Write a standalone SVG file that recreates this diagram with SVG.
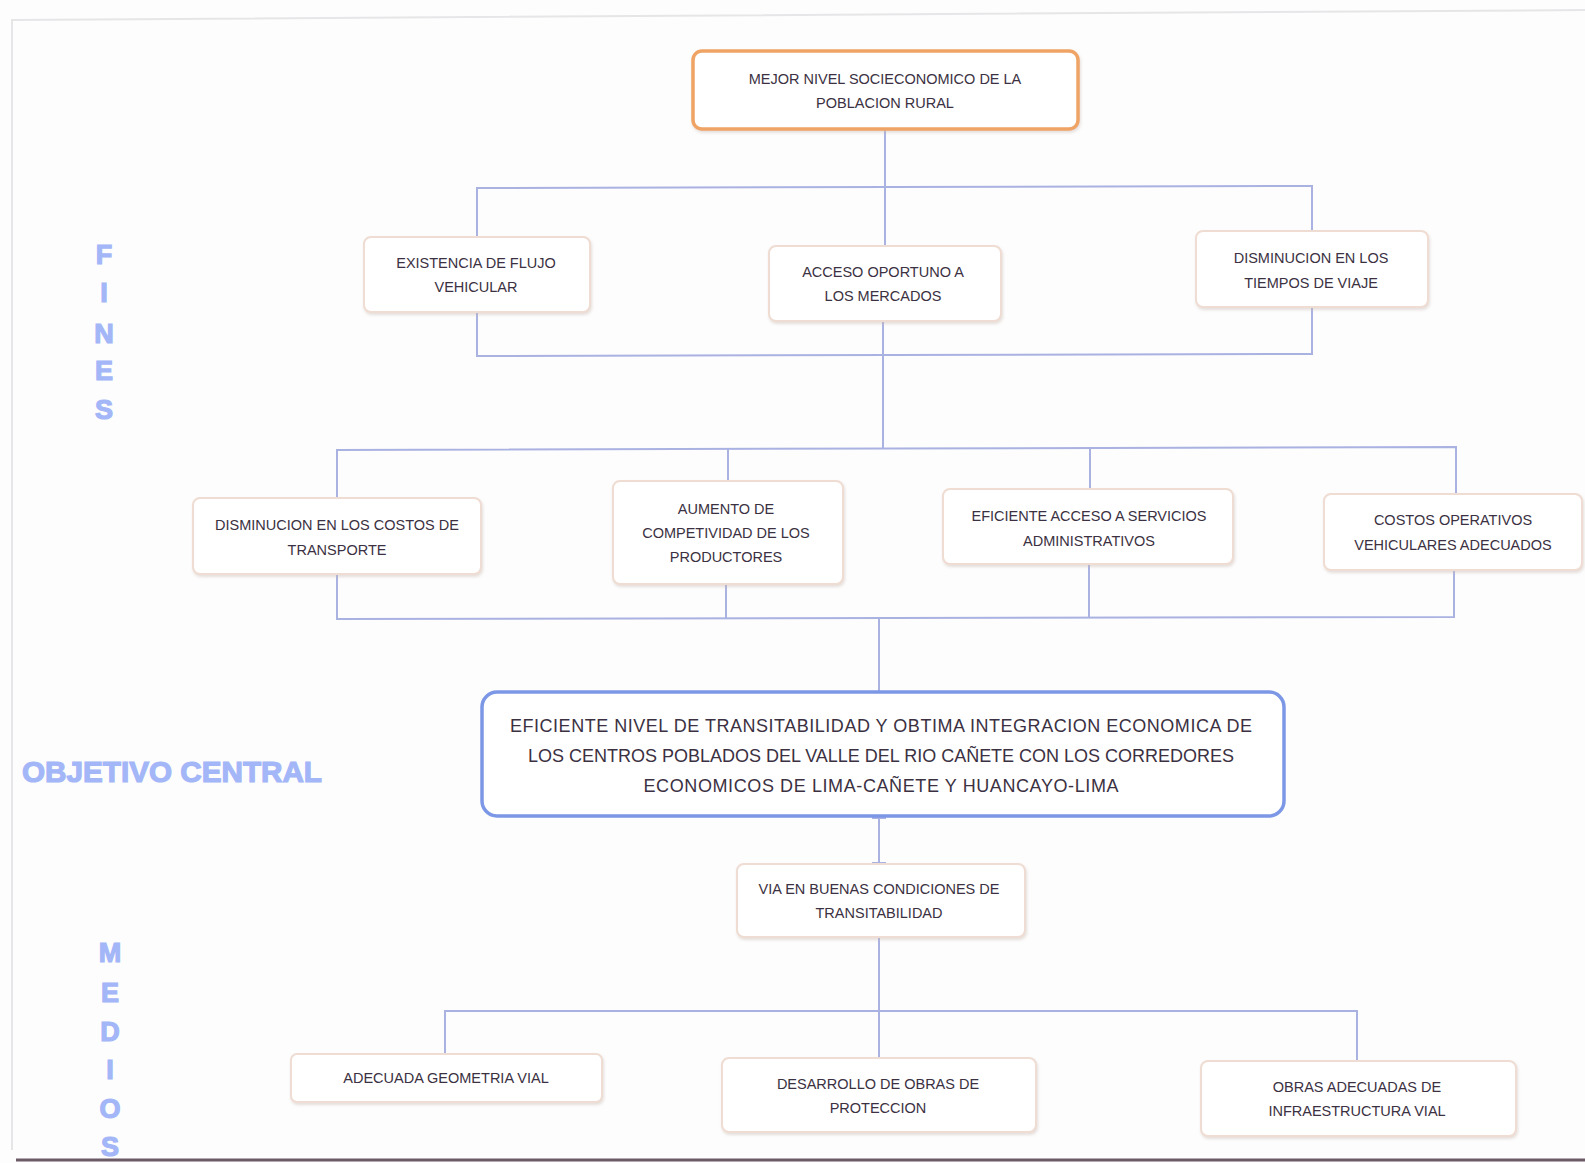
<svg xmlns="http://www.w3.org/2000/svg" width="1585" height="1163" viewBox="0 0 1585 1163">
<defs>
<style>
.bg{fill:#fdfdfd}
.frame{stroke:#e6e6e8;stroke-width:2;fill:none}
.box{fill:#ffffff;stroke:#efdcd2;stroke-width:2}
.top{fill:#ffffff;stroke:#efa465;stroke-width:3.5}
.central{fill:#ffffff;stroke:#7c97e6;stroke-width:3.5}
.t{font-family:"Liberation Sans",Arial,sans-serif;font-size:14.5px;fill:#3b3142;text-anchor:middle}
.tc{font-family:"Liberation Sans",Arial,sans-serif;font-size:18px;fill:#3b3142;text-anchor:middle}
.side{font-family:"Liberation Sans",Arial,sans-serif;font-weight:bold;fill:#a3b6f7;stroke:#a3b6f7;stroke-width:1.2;text-anchor:middle}
.conn line,.conn polyline{stroke:#aab2e2;stroke-width:2;fill:none}
</style>
<filter id="sh" x="-10%" y="-20%" width="120%" height="140%">
<feDropShadow dx="1" dy="2" stdDeviation="1.5" flood-color="#c8b8b0" flood-opacity="0.45"/>
</filter>
</defs>
<rect class="bg" x="0" y="0" width="1585" height="1163"/>
<polyline class="frame" points="12,1150 12,20 1585,10"/>
<line x1="16" y1="1160" x2="1585" y2="1160" stroke="#6a5a66" stroke-width="3"/>

<g class="conn">
<line x1="885" y1="130" x2="885" y2="246"/>
<polyline points="477,237 477,188 1312,186 1312,231"/>
<polyline points="477,312 477,356 1312,354 1312,307"/>
<line x1="883" y1="321" x2="883" y2="449"/>
<polyline points="337,498 337,450 1456,447 1456,494"/>
<line x1="728" y1="449" x2="728" y2="481"/>
<line x1="1090" y1="448" x2="1090" y2="489"/>
<polyline points="337,574 337,619 1454,617 1454,570"/>
<line x1="726" y1="584" x2="726" y2="619"/>
<line x1="1089" y1="564" x2="1089" y2="618"/>
<line x1="879" y1="618" x2="879" y2="692"/>
<line x1="879" y1="817" x2="879" y2="864"/>
<line x1="872" y1="818" x2="886" y2="818"/>
<line x1="872" y1="863" x2="886" y2="863"/>
<line x1="879" y1="937" x2="879" y2="1058"/>
<polyline points="445,1054 445,1011 1357,1011 1357,1061"/>
</g>

<g id="fines-label">
<text class="side" x="104" y="264" font-size="27">F</text>
<text class="side" x="104" y="302" font-size="27">I</text>
<text class="side" x="104" y="343" font-size="27">N</text>
<text class="side" x="104" y="380" font-size="27">E</text>
<text class="side" x="104" y="419" font-size="27">S</text>
</g>
<g id="objetivo-label">
<text class="side" x="172" y="782" font-size="30" textLength="300" lengthAdjust="spacingAndGlyphs">OBJETIVO CENTRAL</text>
</g>
<g id="medios-label">
<text class="side" x="110" y="962" font-size="27">M</text>
<text class="side" x="110" y="1002" font-size="27">E</text>
<text class="side" x="110" y="1041" font-size="27">D</text>
<text class="side" x="110" y="1079" font-size="27">I</text>
<text class="side" x="110" y="1118" font-size="27">O</text>
<text class="side" x="110" y="1156" font-size="27">S</text>
</g>

<g id="n-top">
<rect class="top" x="693" y="51" width="385" height="78" rx="9" filter="url(#sh)"/>
<text class="t" x="885" y="84">MEJOR NIVEL SOCIECONOMICO DE LA</text>
<text class="t" x="885" y="108">POBLACION RURAL</text>
</g>
<g id="n-flujo">
<rect class="box" x="364" y="237" width="226" height="75" rx="7" filter="url(#sh)"/>
<text class="t" x="476" y="268">EXISTENCIA DE FLUJO</text>
<text class="t" x="476" y="292">VEHICULAR</text>
</g>
<g id="n-acceso">
<rect class="box" x="769" y="246" width="232" height="75" rx="7" filter="url(#sh)"/>
<text class="t" x="883" y="277">ACCESO OPORTUNO A</text>
<text class="t" x="883" y="301">LOS MERCADOS</text>
</g>
<g id="n-tiempos">
<rect class="box" x="1196" y="231" width="232" height="76" rx="7" filter="url(#sh)"/>
<text class="t" x="1311" y="263">DISMINUCION EN LOS</text>
<text class="t" x="1311" y="288">TIEMPOS DE VIAJE</text>
</g>
<g id="n-costos-transporte">
<rect class="box" x="193" y="498" width="288" height="76" rx="7" filter="url(#sh)"/>
<text class="t" x="337" y="530">DISMINUCION EN LOS COSTOS DE</text>
<text class="t" x="337" y="555">TRANSPORTE</text>
</g>
<g id="n-competitividad">
<rect class="box" x="613" y="481" width="230" height="103" rx="7" filter="url(#sh)"/>
<text class="t" x="726" y="514">AUMENTO DE</text>
<text class="t" x="726" y="538">COMPETIVIDAD DE LOS</text>
<text class="t" x="726" y="562">PRODUCTORES</text>
</g>
<g id="n-servicios">
<rect class="box" x="943" y="489" width="290" height="75" rx="7" filter="url(#sh)"/>
<text class="t" x="1089" y="521">EFICIENTE ACCESO A SERVICIOS</text>
<text class="t" x="1089" y="546">ADMINISTRATIVOS</text>
</g>
<g id="n-operativos">
<rect class="box" x="1324" y="494" width="258" height="76" rx="7" filter="url(#sh)"/>
<text class="t" x="1453" y="525">COSTOS  OPERATIVOS</text>
<text class="t" x="1453" y="550">VEHICULARES ADECUADOS</text>
</g>
<g id="n-central">
<rect class="central" x="482" y="692" width="802" height="124" rx="15"/>
<text class="tc" x="881" y="732" textLength="742">EFICIENTE NIVEL DE TRANSITABILIDAD Y OBTIMA INTEGRACION ECONOMICA DE</text>
<text class="tc" x="881" y="762" textLength="706">LOS CENTROS POBLADOS DEL VALLE DEL RIO CAÑETE CON LOS CORREDORES</text>
<text class="tc" x="881" y="792" textLength="475">ECONOMICOS DE LIMA-CAÑETE Y HUANCAYO-LIMA</text>
</g>
<g id="n-via">
<rect class="box" x="737" y="864" width="288" height="73" rx="7" filter="url(#sh)"/>
<text class="t" x="879" y="894">VIA EN BUENAS CONDICIONES DE</text>
<text class="t" x="879" y="918">TRANSITABILIDAD</text>
</g>
<g id="n-geometria">
<rect class="box" x="291" y="1054" width="311" height="48" rx="6" filter="url(#sh)"/>
<text class="t" x="446" y="1083">ADECUADA GEOMETRIA VIAL</text>
</g>
<g id="n-proteccion">
<rect class="box" x="722" y="1058" width="314" height="74" rx="7" filter="url(#sh)"/>
<text class="t" x="878" y="1089">DESARROLLO DE OBRAS DE</text>
<text class="t" x="878" y="1113">PROTECCION</text>
</g>
<g id="n-infraestructura">
<rect class="box" x="1201" y="1061" width="315" height="75" rx="7" filter="url(#sh)"/>
<text class="t" x="1357" y="1092">OBRAS ADECUADAS DE</text>
<text class="t" x="1357" y="1116">INFRAESTRUCTURA VIAL</text>
</g>
</svg>
